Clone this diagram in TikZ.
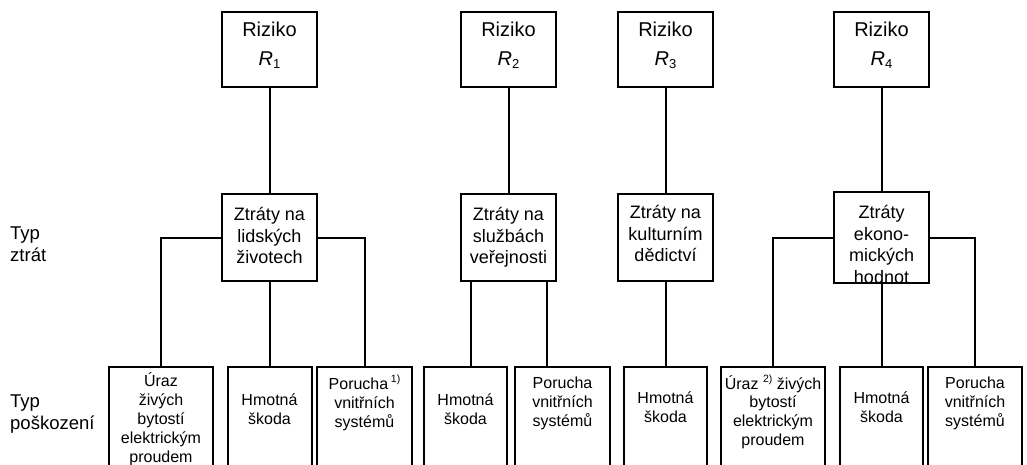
\documentclass[tikz,border=0pt]{standalone}
\usepackage{fontspec}
\setmainfont{Liberation Sans}
% small lowered index for R_n
\newcommand\riskidx[1]{\raisebox{-3pt}{\fontsize{13}{13}\selectfont #1}}
\newcommand\fnmark[1]{\raisebox{7pt}{\fontsize{10.5}{10.5}\selectfont #1}}
\begin{document}
\begin{tikzpicture}[x=1pt,y=-1pt,
  conn/.style={line width=2pt},
  riskbox/.style={draw, line width=2pt, minimum width=95pt, minimum height=75pt,
    align=center, inner sep=0pt, font=\fontsize{20}{28.5}\selectfont},
  lossbox/.style={draw, line width=2pt, minimum width=95pt, minimum height=87pt,
    align=center, inner sep=0pt, font=\fontsize{18}{21.5}\selectfont},
  dmgbox/.style={draw, line width=2pt, minimum height=130pt, anchor=north, inner sep=0pt},
  % anchored at the baseline of the last line
  dmgtext/.style={anchor=base, align=center, inner sep=0pt, font=\fontsize{16}{18.8}\selectfont},
  side/.style={anchor=base west, align=left, inner sep=0pt, font=\fontsize{18.5}{22.5}\selectfont}]
\useasboundingbox (0,0) rectangle (1027,464);
\clip (0,0) rectangle (1027,464);

% risks
\node[riskbox] (r1) at (269.5,49.5) {Riziko\\\textit{R}\riskidx{1}\rule[-12pt]{0pt}{0pt}};
\node[riskbox] (r2) at (508.5,49.5) {Riziko\\\textit{R}\riskidx{2}\rule[-12pt]{0pt}{0pt}};
\node[riskbox] (r3) at (665.5,49.5) {Riziko\\\textit{R}\riskidx{3}\rule[-12pt]{0pt}{0pt}};
\node[riskbox] (r4) at (881.5,49.5) {Riziko\\\textit{R}\riskidx{4}\rule[-12pt]{0pt}{0pt}};

% types of loss
\node[lossbox] (l1) at (269.5,237.5) {Ztráty na\\lidských\\životech\rule[-4pt]{0pt}{0pt}};
\node[lossbox] (l2) at (508.5,237.5) {Ztráty na\\službách\\veřejnosti};
\node[lossbox] (l3) at (665.5,237.5) {Ztráty na\\kulturním\\dědictví\rule[-8pt]{0pt}{0pt}};
\node[lossbox] (l4) at (881.5,237.5) {\rule{0pt}{27pt}Ztráty\\ekono-\\mických\\hodnot};

% types of damage
\node[dmgbox, minimum width=104pt] (b1) at (161,366) {};
\node[dmgbox, minimum width=84pt]  (b2) at (269.5,366) {};
\node[dmgbox, minimum width=95pt]  (b3) at (364.5,366) {};
\node[dmgbox, minimum width=83pt]  (b4) at (465.5,366) {};
\node[dmgbox, minimum width=95pt]  (b5) at (562.5,366) {};
\node[dmgbox, minimum width=83pt]  (b6) at (665.5,366) {};
\node[dmgbox, minimum width=104pt] (b7) at (773,366) {};
\node[dmgbox, minimum width=83pt]  (b8) at (881.5,366) {};
\node[dmgbox, minimum width=94pt]  (b9) at (975,366) {};

\node[dmgtext] (t1) at (161,462) {Úraz\\živých\\bytostí\\elektrickým\\proudem};
\node[dmgtext] (t2) at (269.5,424) {Hmotná\\škoda};
\node[dmgtext] (t3) at (364.5,427.5) {Porucha\,\fnmark{1)}\\vnitřních\\systémů};
\node[dmgtext] (t4) at (465.5,424) {Hmotná\\škoda};
\node[dmgtext] (t5) at (562.5,426) {Porucha\\vnitřních\\systémů};
\node[dmgtext] (t6) at (665.5,422.5) {Hmotná\\škoda};
\node[dmgtext] (t7) at (773,445.5) {Úraz \fnmark{2)} živých\\bytostí\\elektrickým\\proudem};
\node[dmgtext] (t8) at (881.5,422.5) {Hmotná\\škoda};
\node[dmgtext] (t9) at (975,426) {Porucha\\vnitřních\\systémů};

% row captions
\node[side] (cap1) at (10,261.5) {Typ\\ztrát};
\node[side] (cap2) at (10,429.5) {Typ\\poškození};

% connectors
\draw[conn] (r1) -- (l1);
\draw[conn] (r2) -- (l2);
\draw[conn] (r3) -- (l3);
\draw[conn] (r4) -- (l4);

\draw[conn] (l1.west) -| (b1.north);
\draw[conn] (l1.south) -- (b2.north);
\draw[conn] (l1.east) -| (b3.north);

\draw[conn] ([xshift=-37.5pt]l2.south) -- ([xshift=-37.5pt]l2.south |- b4.north);
\draw[conn] ([xshift=38.5pt]l2.south) -- ([xshift=38.5pt]l2.south |- b5.north);

\draw[conn] (l3.south) -- (b6.north);

\draw[conn] (l4.west) -| (b7.north);
\draw[conn] (l4.south) -- (b8.north);
\draw[conn] (l4.east) -| (b9.north);
\end{tikzpicture}
\end{document}
